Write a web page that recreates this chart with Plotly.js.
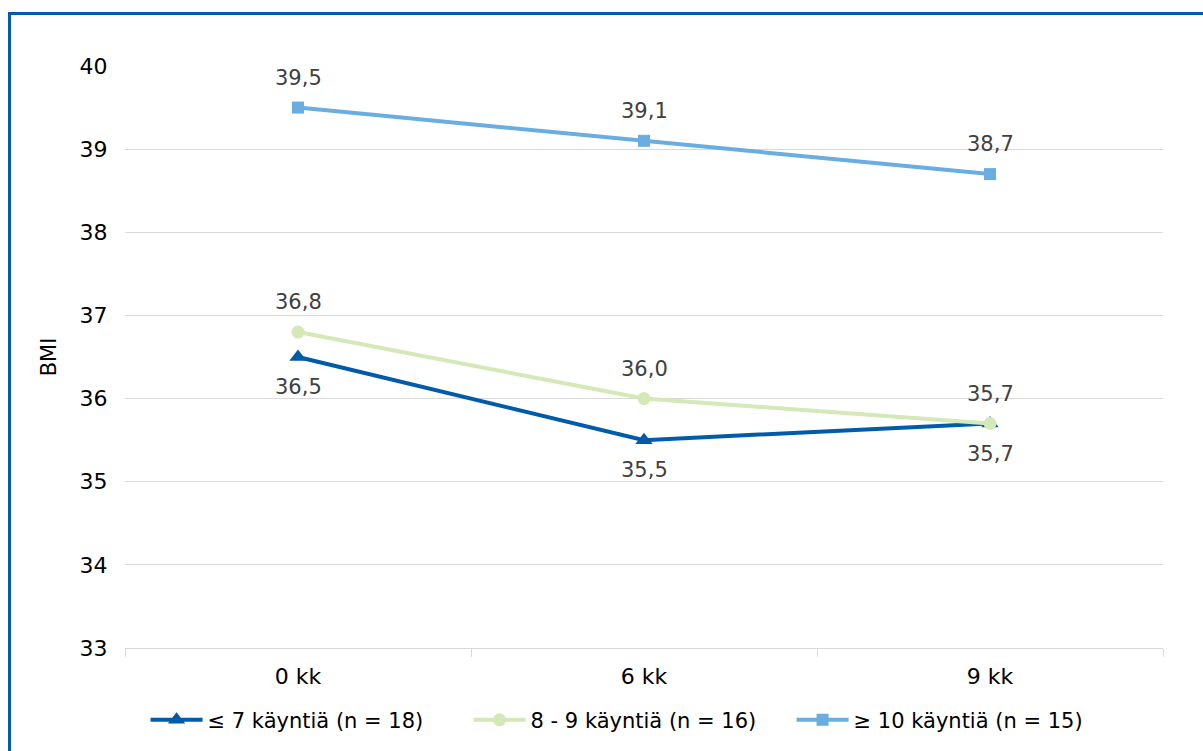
<!DOCTYPE html>
<html>
<head>
<meta charset="utf-8">
<script src="https://cdn.plot.ly/plotly-3.0.1.min.js"></script>
<style>
  html, body { margin: 0; padding: 0; background: #ffffff; }
  #wrap { position: relative; width: 1203px; height: 751px; overflow: hidden; }
  #chart { position: absolute; left: 0; top: 0; width: 1203px; height: 751px; }
  #frame { position: absolute; left: 8px; top: 12px; width: 1400px; height: 1000px;
           border-left: 3px solid #005BAA; border-top: 3px solid #005BAA; pointer-events: none; }
</style>
</head>
<body>
<div id="wrap">
  <div id="chart"></div>
  <div id="frame"></div>
</div>
<script>
const categories = ["0 kk", "6 kk", "9 kk"];
const seriesNames = ["≤ 7 käyntiä (n = 18)", "8 - 9 käyntiä (n = 16)", "≥ 10 käyntiä (n = 15)"];
const lowVisits = [36.5, 35.5, 35.7];
const midVisits = [36.8, 36.0, 35.7];
const highVisits = [39.5, 39.1, 38.7];
const yTicks = [33, 34, 35, 36, 37, 38, 39, 40];

const colors = ["#005BAA", "#D4E8B8", "#6AADE0"];
const symbols = ["triangle-up", "circle", "square"];
const markerSizes = [15, 13, 12];
const allSeries = [lowVisits, midVisits, highVisits];
const labelShift = [-30, 30, 30];

const fmt = v => v.toFixed(1).replace(".", ",");

const traces = allSeries.map((vals, i) => ({
  type: "scatter",
  mode: "lines+markers",
  name: seriesNames[i],
  legendrank: i + 1,
  x: categories,
  y: vals,
  line: { color: colors[i], width: 4 },
  marker: { color: colors[i], symbol: symbols[i], size: markerSizes[i] },
  hoverinfo: "skip"
}));
// draw order: green over dark blue at the shared end point
const order = [0, 2, 1];
const data = order.map(i => traces[i]);

const annotations = [];
allSeries.forEach((vals, i) => {
  vals.forEach((v, j) => {
    annotations.push({
      x: categories[j], y: v, xref: "x", yref: "y",
      text: fmt(v), showarrow: false, yshift: labelShift[i],
      font: { family: "DejaVu Sans", size: 21, color: "#404040" }
    });
  });
});

const layout = {
  width: 1203, height: 751, autosize: false,
  paper_bgcolor: "#ffffff", plot_bgcolor: "#ffffff",
  margin: { l: 125, r: 40, t: 66, b: 103 },
  font: { family: "DejaVu Sans", color: "#404040" },
  showlegend: true,
  legend: {
    orientation: "h", xref: "container", yref: "container",
    x: 0.121, xanchor: "left", y: 0.041, yanchor: "middle",
    font: { family: "DejaVu Sans", size: 21, color: "#000000" },
    traceorder: "normal", itemwidth: 52, entrywidth: 256, entrywidthmode: "pixels"
  },
  xaxis: {
    type: "category", categoryorder: "array", categoryarray: categories,
    range: [-0.5, 2.5], showgrid: false, zeroline: false,
    showline: true, linecolor: "#d9d9d9", linewidth: 1,
    ticks: "outside", tickson: "boundaries", ticklen: 8, tickcolor: "#d9d9d9",
    ticklabelstandoff: 9,
    tickfont: { family: "DejaVu Sans", size: 22, color: "#000000" }
  },
  yaxis: {
    range: [33, 40], tickvals: yTicks, ticktext: yTicks.map(String),
    showgrid: true, gridcolor: "#d9d9d9", gridwidth: 1, zeroline: false,
    showline: false, ticks: "outside", ticklen: 12, tickcolor: "rgba(0,0,0,0)",
    tickfont: { family: "DejaVu Sans", size: 22, color: "#000000" },
    title: { text: "BMI", standoff: 17, font: { family: "DejaVu Sans", size: 21, color: "#000000" } }
  },
  annotations: annotations
};

Plotly.newPlot("chart", data, layout, { displayModeBar: false, staticPlot: true });
</script>
</body>
</html>
